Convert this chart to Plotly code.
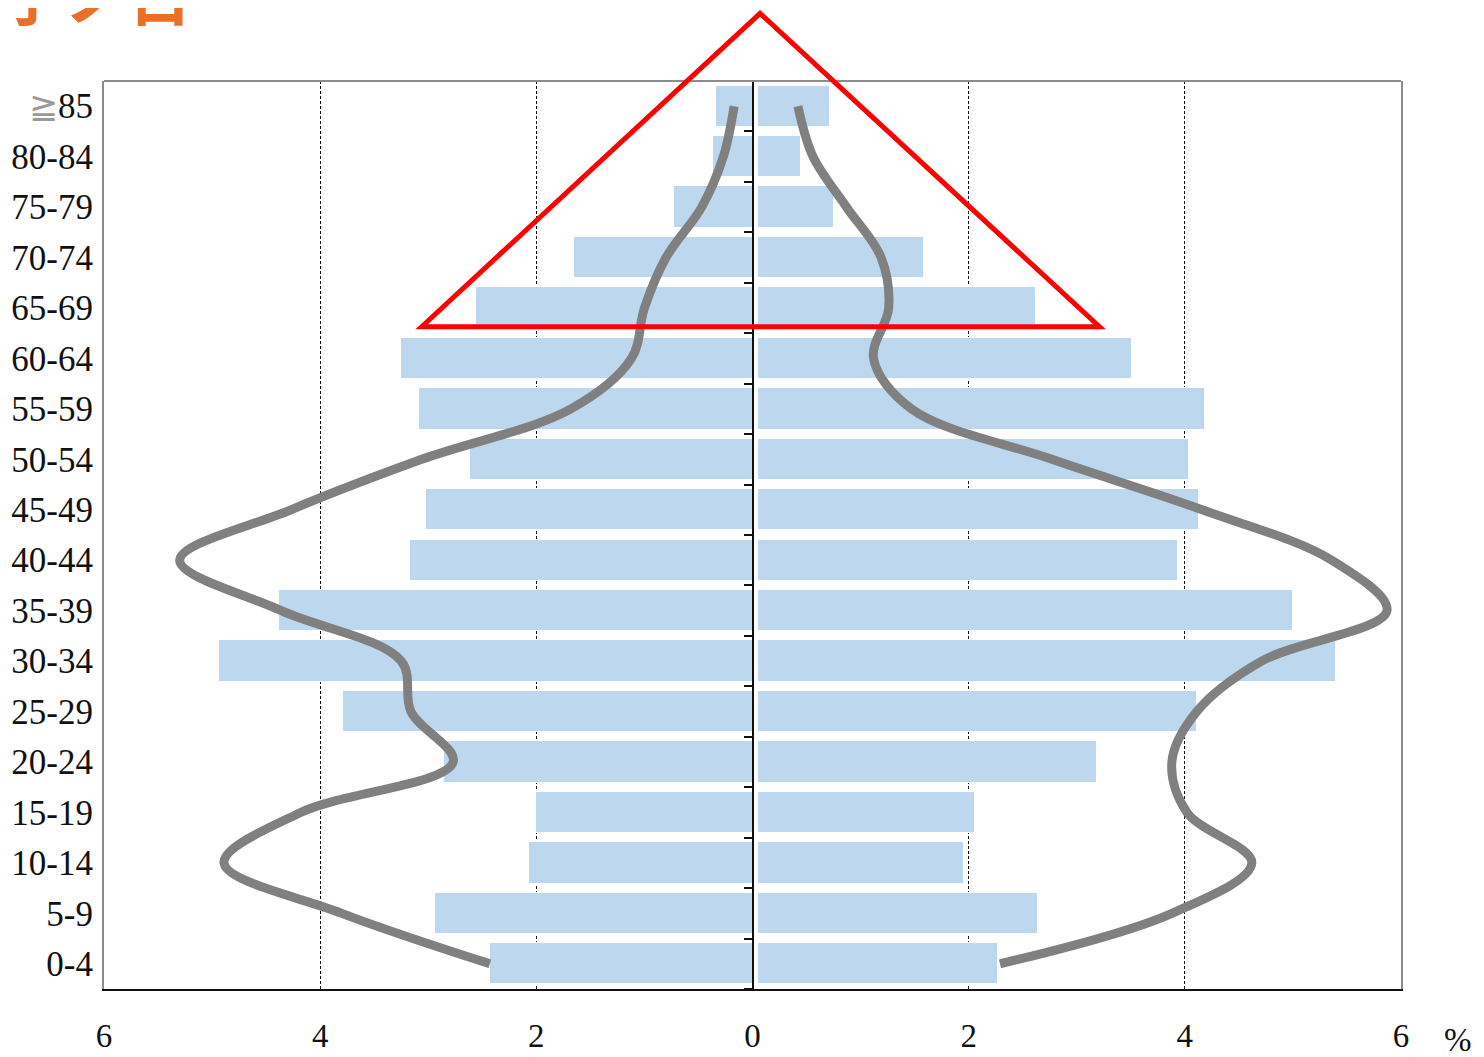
import plotly.graph_objects as go

# ---------------- data ----------------
age_groups = ["0-4", "5-9", "10-14", "15-19", "20-24", "25-29", "30-34", "35-39",
              "40-44", "45-49", "50-54", "55-59", "60-64", "65-69", "70-74",
              "75-79", "80-84", "≧85"]
tick_text = age_groups[:-1] + ['<span style="color:#9a9a9a">≧</span>85']

# bars (percent) - left side and right side
left_pct = [2.43, 2.94, 2.07, 2.00, 2.85, 3.79, 4.94, 4.38, 3.17, 3.02, 2.61,
            3.09, 3.25, 2.56, 1.65, 0.73, 0.37, 0.34]
right_pct = [2.27, 2.64, 1.96, 2.06, 3.19, 4.11, 5.40, 5.00, 3.94, 4.13, 4.04,
             4.19, 3.51, 2.62, 1.59, 0.75, 0.45, 0.72]

# comparison profile (grey curve)
curve_left = [2.43, 3.80, 4.89, 4.18, 2.77, 3.16, 3.25, 4.36, 5.30, 4.27, 3.06,
              1.68, 1.12, 1.00, 0.80, 0.47, 0.27, 0.17]
curve_right = [2.29, 3.88, 4.62, 4.02, 3.88, 4.11, 4.71, 5.87, 5.36, 4.16, 2.77,
               1.47, 1.12, 1.26, 1.19, 0.87, 0.56, 0.42]

x_ticks = [-6, -4, -2, 0, 2, 4, 6]
x_tick_text = ["6", "4", "2", "0", "2", "4", "6"]

# red highlight triangle (data units)
tri_x = [0.07, -3.06, 3.21]
tri_y = [18.84, 12.63, 12.63]

# ---------------- figure ----------------
OFF = 8  # default body margin of the html page
W, H = 1484 - OFF, 1057 - OFF
ML, MR, MT, MB = 104 - OFF, 83, 81 - OFF, 68
PW, PH = W - ML - MR, H - MT - MB
XR = [-6, 6]
YR = [-0.5, len(age_groups) - 0.5]
GAP = 0.055
BAR_COLOR = "#BDD7EE"
SERIF = "Liberation Serif, Times New Roman, serif"

yidx = list(range(len(age_groups)))

fig = go.Figure()
fig.add_trace(go.Bar(y=yidx, x=[-v for v in left_pct], orientation="h",
                     marker=dict(color=BAR_COLOR, line=dict(color="white", width=1)),
                     width=0.82, hoverinfo="skip", showlegend=False))
fig.add_trace(go.Bar(y=yidx, x=[v - GAP for v in right_pct], base=GAP, orientation="h",
                     marker=dict(color=BAR_COLOR, line=dict(color="white", width=1)),
                     width=0.82, hoverinfo="skip", showlegend=False))
for xs in ([-v for v in curve_left], curve_right):
    fig.add_trace(go.Scatter(x=xs, y=yidx, mode="lines",
                             line=dict(color="#808080", width=9, shape="spline", smoothing=1.0),
                             hoverinfo="skip", showlegend=False))
# dummy trace for the central axis
fig.add_trace(go.Scatter(x=[None], y=[None], yaxis="y2", showlegend=False, hoverinfo="skip"))


def px(xv):
    return (xv - XR[0]) / (XR[1] - XR[0])


def py(yv):
    return (yv - YR[0]) / (YR[1] - YR[0])


tri_path = "M {} {} L {} {} L {} {} Z".format(
    px(tri_x[0]), py(tri_y[0]), px(tri_x[1]), py(tri_y[1]), px(tri_x[2]), py(tri_y[2]))

fig.update_layout(
    width=W, height=H,
    margin=dict(l=ML, r=MR, t=MT, b=MB, pad=0, autoexpand=False),
    paper_bgcolor="white", plot_bgcolor="white",
    barmode="overlay",
    bargap=0,
    font=dict(family=SERIF, color="#111111", size=33),
    xaxis=dict(range=XR, tickvals=x_ticks, ticktext=x_tick_text,
               showgrid=True, gridcolor="#111111", gridwidth=1, griddash="3px,2px",
               zeroline=False, showline=True, linecolor="#111111", linewidth=2,
               ticks="", ticklabelstandoff=16, tickfont=dict(size=33, family=SERIF),
               automargin=False, fixedrange=True),
    yaxis=dict(range=YR, tickvals=yidx, ticktext=tick_text, showgrid=False,
               zeroline=False, showline=True, linecolor="#8c8c8c", linewidth=2,
               mirror=True, ticks="", ticklabelstandoff=2, automargin=False,
               tickfont=dict(size=35, family=SERIF), fixedrange=True),
    yaxis2=dict(range=YR, overlaying="y", anchor="free", position=0.5, side="left",
                tickvals=[i - 0.5 for i in range(len(age_groups) + 1)],
                ticks="outside", ticklen=8, tickwidth=2, tickcolor="#111111",
                showticklabels=False, showgrid=False, zeroline=False, automargin=False,
                showline=True, linecolor="#111111", linewidth=2, fixedrange=True),
    shapes=[
        dict(type="line", xref="paper", yref="paper", x0=0, x1=1, y0=1, y1=1,
             line=dict(color="#8c8c8c", width=2), layer="above"),
        dict(type="path", xref="paper", yref="paper", path=tri_path,
             line=dict(color="#FF0000", width=5), fillcolor="rgba(0,0,0,0)", layer="above"),
    ],
    annotations=[
        dict(text="%", xref="paper", yref="paper", x=(1458 - OFF - ML) / PW,
             y=-(1040 - OFF - (H - MB)) / PH, xanchor="center", yanchor="middle",
             showarrow=False, font=dict(size=33, family=SERIF, color="#111111")),
        dict(text="<b>子ノ日</b>", xref="paper", yref="paper",
             x=(-2 - OFF - ML) / PW, y=((H - MB) + 16) / PH,
             xanchor="left", yanchor="middle", showarrow=False,
             font=dict(size=64, family="Noto Sans CJK SC", color="#E8702A")),
    ],
)

fig.write_html("out.html")
